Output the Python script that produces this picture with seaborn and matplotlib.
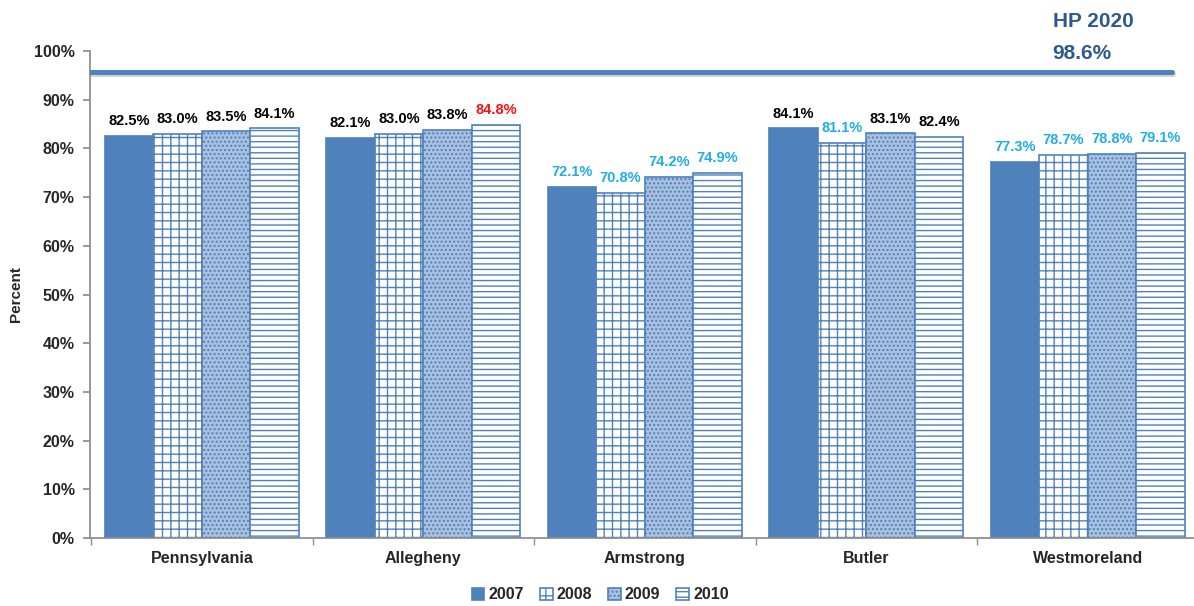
import matplotlib

matplotlib.use("Agg")
import matplotlib.patheffects as pe  # noqa: E402
import matplotlib.pyplot as plt  # noqa: E402
import pandas as pd  # noqa: E402
import seaborn as sns  # noqa: E402
from matplotlib.ticker import FixedLocator, PercentFormatter  # noqa: E402

REGIONS = ["Pennsylvania", "Allegheny", "Armstrong", "Butler", "Westmoreland"]
YEARS = ["2007", "2008", "2009", "2010"]
VAL_2007 = [82.5, 82.1, 72.1, 84.1, 77.3]
VAL_2008 = [83.0, 83.0, 70.8, 81.1, 78.7]
VAL_2009 = [83.5, 83.8, 74.2, 83.1, 78.8]
VAL_2010 = [84.1, 84.8, 74.9, 82.4, 79.1]
# label colours as shown in the source chart
LABEL_COLORS = {
    "2007": ["k", "k", "c", "k", "c"],
    "2008": ["k", "k", "c", "c", "c"],
    "2009": ["k", "k", "c", "k", "c"],
    "2010": ["k", "r", "c", "k", "c"],
}
HP_LABEL = "HP 2020"
HP_TARGET = "98.6%"
HP_LINE_Y = 95.6  # where the target line is drawn in the picture

BLUE = "#4F81BD"
LIGHT = "#A9C0DF"
DARK_BLUE = "#2F5A8F"
CYAN = "#1FAEE8"
RED = "#FF1010"
AXIS_GREY = "#8C8C8C"
COLOR_MAP = {"k": "black", "c": CYAN, "r": RED}

df = pd.DataFrame({
    "region": REGIONS * 4,
    "year": [y for y in YEARS for _ in REGIONS],
    "value": VAL_2007 + VAL_2008 + VAL_2009 + VAL_2010,
})

sns.set_theme(style="white")
plt.rcParams["font.family"] = ["Liberation Sans", "DejaVu Sans"]
plt.rcParams["hatch.color"] = BLUE
plt.rcParams["hatch.linewidth"] = 1.0

fig, ax = plt.subplots(figsize=(11.94, 6.06), dpi=100)
fig.subplots_adjust(left=0.0754, right=1.0, top=0.9158, bottom=0.1122)

sns.barplot(data=df, x="region", y="value", hue="year", order=REGIONS, hue_order=YEARS,
            width=0.875, gap=0, saturation=1, palette=[BLUE, "white", LIGHT, "white"], ax=ax)

hatches = ["", "++", "....", "---"]
for cont, hatch, year in zip(ax.containers, hatches, YEARS):
    for i, bar in enumerate(cont):
        bar.set_edgecolor(BLUE)
        bar.set_linewidth(1.2)
        bar.set_hatch(hatch)
        h = bar.get_height()
        ax.text(bar.get_x() + bar.get_width() / 2, h + 1.6, f"{h:.1f}%", ha="center",
                va="bottom", fontsize=10.5, fontweight="bold",
                color=COLOR_MAP[LABEL_COLORS[year][i]])

ax.axhline(HP_LINE_Y, xmax=0.98, color=BLUE, lw=3.6, zorder=5,
           path_effects=[pe.SimpleLineShadow(offset=(1, -1.2), alpha=0.2), pe.Normal()])
ax.text(0.872, 1.042, HP_LABEL, transform=ax.transAxes, ha="left", va="bottom",
        fontsize=15, fontweight="bold", color=DARK_BLUE)
ax.text(0.872, HP_LINE_Y + 1.9, HP_TARGET, transform=ax.get_yaxis_transform(),
        ha="left", va="bottom", fontsize=15, fontweight="bold", color=DARK_BLUE)

ax.set_ylim(0, 100)
ax.set_xlim(-0.505, len(REGIONS) - 0.52)
ax.yaxis.set_major_locator(FixedLocator(range(0, 101, 10)))
ax.yaxis.set_major_formatter(PercentFormatter(decimals=0))
ax.set_ylabel("Percent", fontsize=11, fontweight="bold", labelpad=8)
ax.set_xlabel("")
ax.xaxis.set_minor_locator(FixedLocator([i - 0.5 for i in range(len(REGIONS) + 1)]))
ax.tick_params(axis="x", which="major", length=0, pad=9)
ax.tick_params(axis="x", which="minor", length=5, color=AXIS_GREY, bottom=True)
ax.tick_params(axis="y", length=5, color=AXIS_GREY, left=True, pad=6)
for lab in ax.get_xticklabels() + ax.get_yticklabels():
    lab.set_fontweight("bold")
    lab.set_fontsize(11.5)
for side in ["top", "right"]:
    ax.spines[side].set_visible(False)
for side in ["left", "bottom"]:
    ax.spines[side].set_color(AXIS_GREY)

handles = [cont[0] for cont in ax.containers]
ax.legend(handles, YEARS, loc="center", bbox_to_anchor=(0.462, -0.117), ncol=4,
          frameon=False, handlelength=0.8, handleheight=0.8, handletextpad=0.25,
          columnspacing=1.0, borderpad=0.2, prop={"weight": "bold", "size": 11.5})

fig.savefig("out.png", dpi=100, facecolor="white")
